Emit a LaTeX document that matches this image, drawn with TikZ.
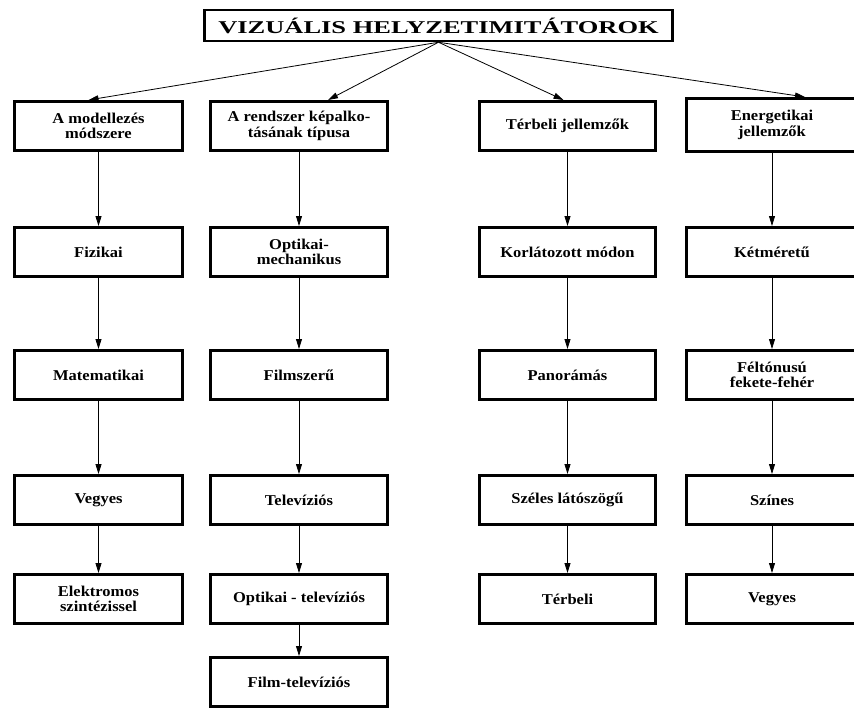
\documentclass[tikz,border=0pt]{standalone}
\usepackage{fontspec}
\setmainfont{Liberation Serif}[FakeStretch=1.1]
\newfontfamily\cimbetu{Liberation Serif}[FakeStretch=1.47]

\usetikzlibrary{arrows.meta}

\begin{document}
\begin{tikzpicture}[x=1pt,y=-1pt,
  doboz/.style={draw,line width=3pt,minimum width=168pt,minimum height=49pt,
    inner sep=2pt,align=center,font=\bfseries\fontsize{15}{15.5}\selectfont},
  cim/.style={draw,line width=2.5pt,minimum width=468pt,minimum height=31pt,
    inner sep=0pt,font=\cimbetu\bfseries\fontsize{18}{18}\selectfont},
  nyil/.style={line width=0.8pt,-{Triangle[length=10pt,width=6pt]}}]
  % keret
  \useasboundingbox (0,0) rectangle (854,709);
  % cím
  \node[cim] (cim) at (438.5,25.5) {VIZUÁLIS HELYZETIMITÁTOROK};

  % első oszlop
  \node[doboz] (a1) at (98.5,126) {A modellezés\\módszere};
  \node[doboz] (a2) at (98.5,252) {Fizikai};
  \node[doboz] (a3) at (98.5,375) {Matematikai};
  \node[doboz] (a4) at (98.5,500) {Vegyes};
  \node[doboz] (a5) at (98.5,599) {Elektromos\\szintézissel};
  % második oszlop
  \node[doboz,minimum width=177pt] (b1) at (299,126) {A rendszer képalko-\\tásának típusa};
  \node[doboz,minimum width=177pt] (b2) at (299,252) {Optikai-\\mechanikus};
  \node[doboz,minimum width=177pt] (b3) at (299,375) {Filmszerű};
  \node[doboz,minimum width=177pt] (b4) at (299,500) {Televíziós};
  \node[doboz,minimum width=177pt] (b5) at (299,599) {Optikai - televíziós};
  \node[doboz,minimum width=177pt] (b6) at (299,682) {Film-televíziós};
  % harmadik oszlop
  \node[doboz,minimum width=176pt] (c1) at (567.5,126) {Térbeli jellemzők};
  \node[doboz,minimum width=176pt] (c2) at (567.5,252) {Korlátozott módon};
  \node[doboz,minimum width=176pt] (c3) at (567.5,375) {Panorámás};
  \node[doboz,minimum width=176pt] (c4) at (567.5,500) {Széles látószögű};
  \node[doboz,minimum width=176pt] (c5) at (567.5,599) {Térbeli};
  % negyedik oszlop
  \node[doboz,minimum width=172pt,minimum height=53pt] (d1) at (772,125) {Energetikai\\jellemzők};
  \node[doboz,minimum width=172pt] (d2) at (772,252) {Kétméretű};
  \node[doboz,minimum width=172pt] (d3) at (772,375) {Féltónusú\\fekete-fehér};
  \node[doboz,minimum width=172pt] (d4) at (772,500) {Színes};
  \node[doboz,minimum width=172pt] (d5) at (772,599) {Vegyes};

  % nyilak a címtől
  \draw[nyil] (cim.south) -- ([xshift=-10pt]a1.north);
  \draw[nyil] (cim.south) -- ([xshift=29pt]b1.north);
  \draw[nyil] (cim.south) -- ([xshift=-4pt]c1.north);
  \draw[nyil] (cim.south) -- ([xshift=33pt]d1.north);
  % függőleges nyilak
  \draw[nyil] (a1) -- (a2);
  \draw[nyil] (a2) -- (a3);
  \draw[nyil] (a3) -- (a4);
  \draw[nyil] (a4) -- (a5);
  \draw[nyil] (b1) -- (b2);
  \draw[nyil] (b2) -- (b3);
  \draw[nyil] (b3) -- (b4);
  \draw[nyil] (b4) -- (b5);
  \draw[nyil] (b5) -- (b6);
  \draw[nyil] (c1) -- (c2);
  \draw[nyil] (c2) -- (c3);
  \draw[nyil] (c3) -- (c4);
  \draw[nyil] (c4) -- (c5);
  \draw[nyil] (d1) -- (d2);
  \draw[nyil] (d2) -- (d3);
  \draw[nyil] (d3) -- (d4);
  \draw[nyil] (d4) -- (d5);
\end{tikzpicture}
\end{document}
